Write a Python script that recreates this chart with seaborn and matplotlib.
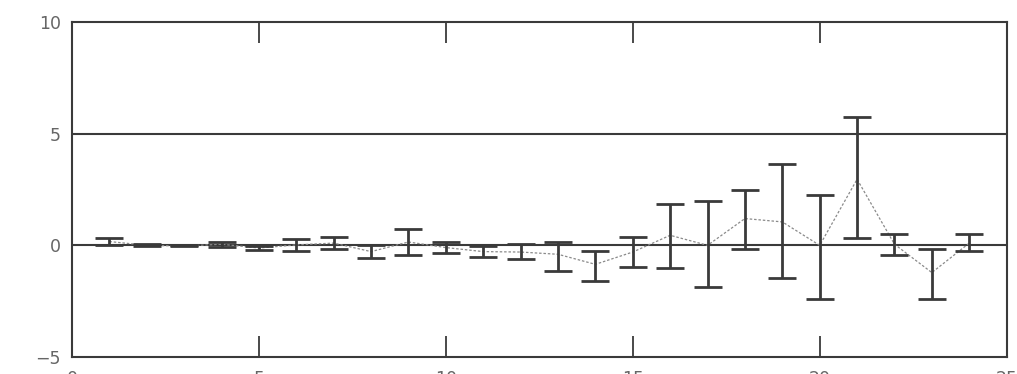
import numpy as np
import pandas as pd
import matplotlib
matplotlib.use("Agg")
import matplotlib.pyplot as plt
import seaborn as sns

# values
step = list(range(1, 25))
mean = [0.17, 0.0, -0.03, 0.05, -0.12, 0.02, 0.1, -0.28, 0.15, -0.1, -0.28, -0.3,
        -0.4, -0.85, -0.3, 0.45, 0.0, 1.2, 1.05, 0.0, 2.96, 0.05, -1.22, 0.1]
upper = [0.34, 0.08, 0.0, 0.17, -0.03, 0.3, 0.37, 0.0, 0.72, 0.15, -0.05, 0.04,
         0.15, -0.27, 0.36, 1.84, 1.97, 2.48, 3.63, 2.26, 5.75, 0.49, -0.18, 0.49]
lower = [0.01, -0.05, -0.05, -0.06, -0.22, -0.25, -0.18, -0.58, -0.43, -0.33, -0.52, -0.63,
         -1.15, -1.6, -0.97, -1.03, -1.85, -0.15, -1.45, -2.39, 0.35, -0.45, -2.42, -0.27]
x_ticks = [0, 5, 10, 15, 20, 25]
y_ticks = [-5, 0, 5, 10]
y_labels = ["\u22125", "0", "5", "10"]

df = pd.DataFrame({"step": step, "mean": mean, "upper": upper, "lower": lower})

sns.set_style("white")
plt.rcParams['font.family'] = ['DejaVu Sans']

ink = "#3a3a3a"
label_gray = "#666666"
fig = plt.figure(figsize=(10.17, 3.74), dpi=100, facecolor='white')
ax = fig.add_axes([0.0708, 0.0455, 0.919, 0.8955])

for yv in [0, 5]:
    ax.axhline(yv, color=ink, linewidth=1.5, zorder=1)

# dotted line through the means
sns.lineplot(data=df, x="step", y="mean", ax=ax, color="#8a8a8a",
             linewidth=0.9, linestyle=(0, (2, 1.5)), zorder=2)

yerr = np.vstack([df["mean"] - df["lower"], df["upper"] - df["mean"]])
ax.errorbar(df["step"], df["mean"], yerr=yerr, fmt='none', ecolor=ink,
            elinewidth=2.0, capsize=10, capthick=2.0, zorder=3)

ax.set_xlim(0, 25)
ax.set_ylim(-5, 10)
ax.set_xticks(x_ticks)
ax.set_yticks(y_ticks)
ax.set_yticklabels(y_labels)
ax.set_xlabel("")
ax.set_ylabel("")

# x labels sit mostly below the figure edge, as in the scan
ax.tick_params(axis='x', direction='in', length=15, width=1.3, color=ink,
               top=True, bottom=True, labelsize=12.5, labelcolor=label_gray, pad=9.5)
ax.tick_params(axis='y', length=0, labelsize=12.5, labelcolor=label_gray, pad=8)

# no tick marks at the axis ends
for tk in (ax.xaxis.get_major_ticks()[0], ax.xaxis.get_major_ticks()[-1]):
    tk.tick1line.set_visible(False)
    tk.tick2line.set_visible(False)

for spine in ax.spines.values():
    spine.set_color(ink)
    spine.set_linewidth(1.5)
    spine.set_visible(True)

fig.savefig("out.png", dpi=100, facecolor='white')
plt.close(fig)
